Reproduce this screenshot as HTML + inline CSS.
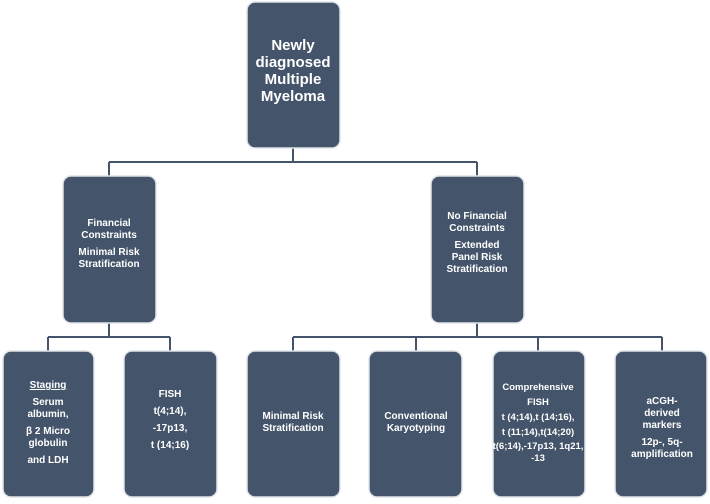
<!DOCTYPE html>
<html><head><style>html,body{margin:0;padding:0;background:#fff}</style></head>
<body>
<svg width="710" height="499" viewBox="0 0 710 499" xmlns="http://www.w3.org/2000/svg" font-family="Liberation Sans, sans-serif" font-weight="bold" fill="#fff">
<g stroke="#44546a" stroke-width="2" fill="none">
<path d="M293 147V162M109 162H477M109 162V176M477 162V176"/>
<path d="M109 323V337M48 337H170M48 337V351M170 337V351"/>
<path d="M477 323V337M293 337H662M293 337V351M416 337V351M538 337V351M662 337V351"/>
</g>
<g fill="#44546a" stroke="#dfe3e8" stroke-width="1.5">
<rect x="247" y="2" width="93" height="146" rx="8"/>
<rect x="63" y="176" width="93" height="147" rx="8"/>
<rect x="431" y="176" width="93" height="147" rx="8"/>
<rect x="3" y="351" width="91" height="146" rx="8"/>
<rect x="124" y="351" width="93" height="146" rx="8"/>
<rect x="247" y="351" width="93" height="146" rx="8"/>
<rect x="369" y="351" width="93" height="146" rx="8"/>
<rect x="493" y="351" width="92" height="146" rx="8"/>
<rect x="615" y="351" width="92" height="146" rx="8"/>
</g>
<g text-anchor="middle" font-size="15">
<text x="293" y="50">Newly</text>
<text x="293" y="67">diagnosed</text>
<text x="293" y="84">Multiple</text>
<text x="293" y="101">Myeloma</text>
</g>
<g text-anchor="middle" font-size="10">
<text x="109" y="226">Financial</text>
<text x="109" y="238">Constraints</text>
<text x="109" y="255">Minimal Risk</text>
<text x="109" y="267">Stratification</text>
<text x="477" y="219">No Financial</text>
<text x="477" y="231">Constraints</text>
<text x="477" y="248">Extended</text>
<text x="477" y="260">Panel Risk</text>
<text x="477" y="272">Stratification</text>
<text x="48" y="388" text-decoration="underline">Staging</text>
<text x="48" y="405">Serum</text>
<text x="48" y="417">albumin,</text>
<text x="48" y="434">β 2 Micro</text>
<text x="48" y="446">globulin</text>
<text x="48" y="463">and LDH</text>
<text x="170" y="397">FISH</text>
<text x="170" y="414">t(4;14),</text>
<text x="170" y="431">-17p13,</text>
<text x="170" y="448">t (14;16)</text>
<text x="293" y="419">Minimal Risk</text>
<text x="293" y="431">Stratification</text>
<text x="416" y="419">Conventional</text>
<text x="416" y="431">Karyotyping</text>
<text x="538" y="390" font-size="9.5">Comprehensive</text>
<text x="538" y="405" font-size="9.5">FISH</text>
<text x="538" y="420" font-size="9.5">t (4;14),t (14;16),</text>
<text x="538" y="435" font-size="9.5">t (11;14),t(14;20)</text>
<text x="538" y="449" font-size="9.5">t(6;14),-17p13, 1q21,</text>
<text x="538" y="461" font-size="9.5">-13</text>
<text x="662" y="404">aCGH-</text>
<text x="662" y="416">derived</text>
<text x="662" y="428">markers</text>
<text x="662" y="445">12p-, 5q-</text>
<text x="662" y="457">amplification</text>
</g>
</svg>
</body></html>
